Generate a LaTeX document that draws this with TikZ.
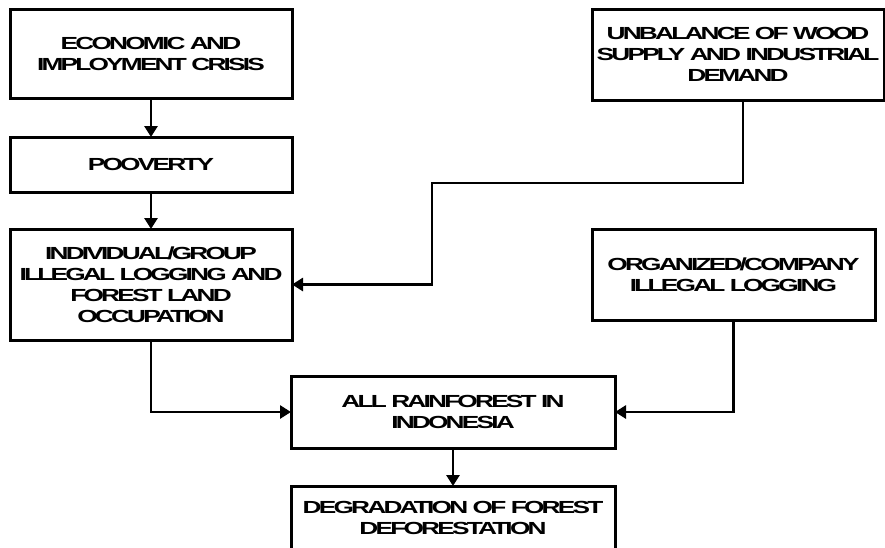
\documentclass[tikz,border=0pt]{standalone}
\usepackage{fontspec}
\newfontfamily\boxfont{Liberation Sans}[FakeStretch=1.5,LetterSpace=-16]
\usetikzlibrary{arrows.meta}
\tikzset{
  box/.style={draw, line width=3pt, rectangle, inner sep=0pt, outer sep=0pt,
    align=center, font=\boxfont\bfseries\fontsize{17.5}{21}\selectfont},
  link/.style={line width=2.8pt, -{Triangle[length=11pt,width=13pt]}}
}
\begin{document}
\begin{tikzpicture}[x=1pt,y=-1pt]
\useasboundingbox (0,0) rectangle (885,547);
\clip (0,0) rectangle (885,547);

% boxes
\node[box, minimum width=282pt, minimum height=89pt] (e) at (151,53.5)
  {ECONOMIC AND\\IMPLOYMENT CRISIS};
\node[box, minimum width=282pt, minimum height=55pt] (p) at (151,164.5)
  {POOVERTY};
\node[box, minimum width=282pt, minimum height=111pt] (i) at (151,284.5)
  {INDIVIDUAL/GROUP\\ILLEGAL LOGGING AND\\FOREST LAND\\OCCUPATION};
\node[box, minimum width=292pt, minimum height=91pt] (u) at (738,54.5)
  {UNBALANCE OF WOOD\\SUPPLY AND INDUSTRIAL\\DEMAND};
\node[box, minimum width=283pt, minimum height=91pt] (o) at (733.5,274.5)
  {ORGANIZED/COMPANY\\ILLEGAL LOGGING};
\node[box, minimum width=324pt, minimum height=72pt] (a) at (453,412)
  {ALL RAINFOREST IN\\INDONESIA};
\node[box, minimum width=324pt, minimum height=63pt] (d) at (453,517.5)
  {DEGRADATION OF FOREST\\DEFORESTATION};

% bend points of the wood-supply connector
\coordinate (u1) at (743,183);
\coordinate (u2) at (432,183);

% connectors
\draw[link] (e) -- (p);
\draw[link] (p) -- (i);
\draw[link] (u.south -| u1) -- (u1) -- (u2) -- (u2 |- i.east) -- (i.east);
\draw[link] (i.south) |- (a.west);
\draw[link] (o.south) |- (a.east);
\draw[link] (a) -- (d);
\end{tikzpicture}
\end{document}
